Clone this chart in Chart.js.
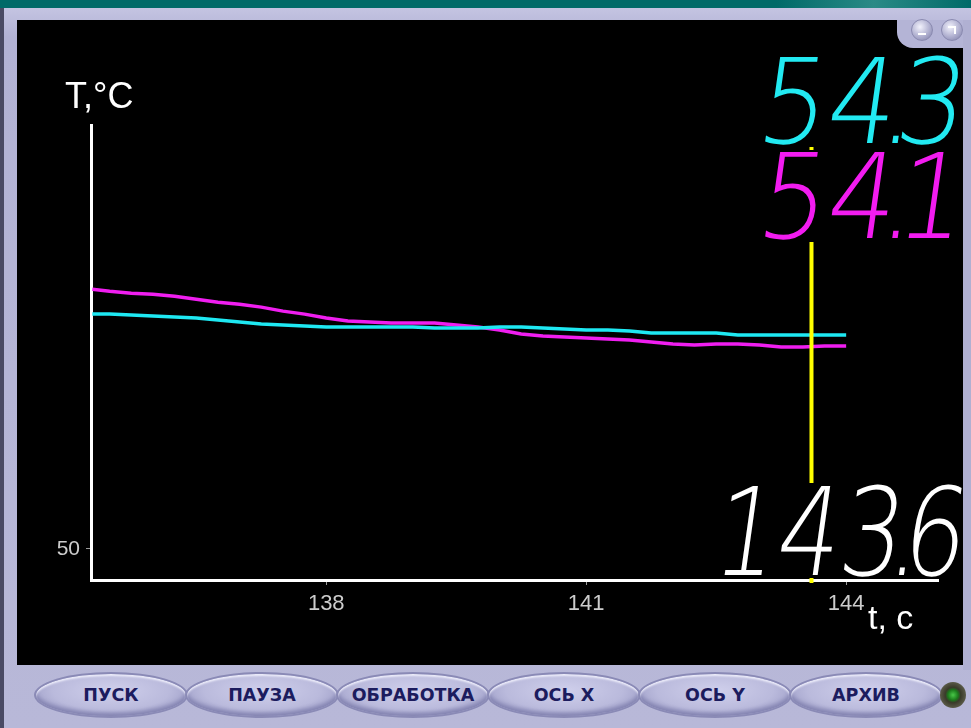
<!DOCTYPE html>
<html>
<head>
<meta charset="utf-8">
<script src="https://cdn.jsdelivr.net/npm/chart.js@4"></script>
<style>
  html, body { margin:0; padding:0; }
  body { width:971px; height:728px; position:relative; overflow:hidden; background:#b6b6d6; font-family:"Liberation Sans", Arial, sans-serif; }
  #topbar { position:absolute; left:0; top:0; width:971px; height:8px; background:linear-gradient(90deg,#006a68 0%,#006a68 80%,#2a8a86 90%,#006a68 100%); }
  #leftdark { position:absolute; left:0; top:8px; width:4px; height:720px; background:#4a4a64; }
  #frameinner { position:absolute; left:4px; top:8px; width:967px; height:720px; background:linear-gradient(180deg,#c4c4e2 0%,#b2b2d4 4%,#b8b8d8 100%); }
  #panel { position:absolute; left:17px; top:20px; width:946px; height:645px; background:#000; }
  #tab { position:absolute; left:897px; top:20px; width:66px; height:28px; background:#b4b4d6; border-bottom-left-radius:16px; }
  .rb { position:absolute; top:19px; width:20px; height:20px; border-radius:50%; background:radial-gradient(circle at 40% 35%,#f2f2fc 0%,#b0b0d0 55%,#7a7aa4 100%); border:1px solid #8a8ab0; }
  .rb .minus { position:absolute; left:6px; top:13px; width:8px; height:2px; background:#fff; }
  .rb .arr { position:absolute; left:6px; top:6px; width:6px; height:6px; border-top:2px solid #fff; border-right:2px solid #fff; }
  #rightedge { position:absolute; left:963px; top:20px; width:8px; height:650px; background:#b0b0d2; }
  canvas#c { position:absolute; left:0; top:0; }
  .btn { position:absolute; top:672px; width:154px; height:46px; border-radius:50%; box-sizing:border-box;
         background:radial-gradient(ellipse at 50% 40%,#d0d0ec 0%,#babadc 55%,#9a9ac4 85%,#7e7eac 100%);
         border:2px solid #8a8ab6; box-shadow:inset 0 2px 2px #ececfa, inset 0 -3px 4px #8282b0;
         display:flex; align-items:center; justify-content:center; font-family:"DejaVu Sans", sans-serif; font-weight:bold; font-size:17.5px; color:#1c1c5e; }
  #led { position:absolute; left:940px; top:682px; width:26px; height:26px; border-radius:50%; background:radial-gradient(circle,#48c848 0%,#1c7a1c 28%,#3a3a2a 42%,#5a5a48 70%,#2e2e24 100%); }
  .ro { position:absolute; background:#000; overflow:visible; z-index:5; }
  .ro .num { position:absolute; right:-4px; font-family:"DejaVu Sans", sans-serif; font-weight:200; transform-origin:100% 50%; white-space:nowrap; line-height:1; }
  .ro .dot { display:inline-block; width:0; position:relative; left:-16px; }
  .axt { position:absolute; color:#fff; font-family:"Liberation Sans", Arial, sans-serif; line-height:1; z-index:6; }
</style>
</head>
<body>
<div id="topbar"></div>
<div id="frameinner"></div>
<div id="leftdark"></div>
<div id="panel"></div>
<div id="rightedge"></div>
<div id="tab"></div>
<div class="rb" style="left:911px;"><div class="minus"></div></div>
<div class="rb" style="left:941px;"><div class="arr"></div></div>

<div class="btn" style="left:34px;">ПУСК</div>
<div class="btn" style="left:185px;">ПАУЗА</div>
<div class="btn" style="left:336px;">ОБРАБОТКА</div>
<div class="btn" style="left:487px;">ОСЬ X</div>
<div class="btn" style="left:638px;">ОСЬ Y</div>
<div class="btn" style="left:789px;">АРХИВ</div>
<div id="led"></div>

<canvas id="c" width="971" height="728"></canvas>

<div class="axt" style="left:65px; top:78px; font-size:36px;">T,°C</div>
<div class="axt" style="left:868px; top:600px; font-size:34px;">t, c</div>
<div class="ro" id="ro1" style="left:760px; top:50px; width:203px; height:96px;"><span class="num"></span></div>
<div class="ro" id="ro2" style="left:760px; top:150px; width:203px; height:92px;"><span class="num"></span></div>
<div class="ro" id="ro3" style="left:728px; top:483px; width:235px; height:95px;"><span class="num"></span></div>

<script>
// ---- data ----
const times = [135.3, 135.5, 135.75, 136.0, 136.25, 136.5, 136.75, 137.0, 137.25, 137.5, 137.75, 138.0,
  138.25, 138.5, 138.75, 139.0, 139.25, 139.5, 139.75, 140.0, 140.25, 140.5, 140.75, 141.0,
  141.25, 141.5, 141.75, 142.0, 142.25, 142.5, 142.75, 143.0, 143.25, 143.5, 143.75, 144.0];
const tempMagenta = [55.22, 55.18, 55.14, 55.12, 55.08, 55.02, 54.96, 54.92, 54.86, 54.78, 54.72, 54.64,
  54.58, 54.56, 54.54, 54.54, 54.54, 54.50, 54.46, 54.40, 54.32, 54.28, 54.26, 54.24,
  54.22, 54.20, 54.16, 54.12, 54.10, 54.12, 54.12, 54.10, 54.06, 54.06, 54.08, 54.08];
const tempCyan = [54.72, 54.72, 54.70, 54.68, 54.66, 54.64, 54.60, 54.56, 54.52, 54.50, 54.48, 54.46,
  54.46, 54.46, 54.46, 54.46, 54.44, 54.44, 54.44, 54.46, 54.46, 54.44, 54.42, 54.40,
  54.40, 54.38, 54.34, 54.34, 54.34, 54.34, 54.30, 54.30, 54.30, 54.30, 54.30, 54.30];
const xTickValues = [138, 141, 144];
const yTickValues = [50];
const cursorTime = [143.6];
const readouts = ["54.3", "54.1"];

// readouts (real text, with the decimal point squeezed like a 7-segment display)
function fillReadout(sel, text, color, size, top, scale) {
  const el = document.querySelector(sel + ' .num');
  el.innerHTML = '';
  for (const ch of text) {
    const s = document.createElement('span');
    s.textContent = ch;
    if (ch === '.') s.className = 'dot';
    el.appendChild(s);
  }
  el.style.color = color;
  el.style.fontSize = size + 'px';
  el.style.top = top + 'px';
  el.style.transform = 'skewX(-8deg) scaleX(' + scale + ')';
}
fillReadout('#ro1', readouts[0], '#22eaf2', 118, -7, 0.92);
fillReadout('#ro2', readouts[1], '#f21cf0', 118, -12, 0.92);
fillReadout('#ro3', cursorTime[0].toFixed(1), '#ffffff', 122, -11, 0.81);

const cursorPlugin = {
  id: 'cursorLine',
  afterDatasetsDraw(chart) {
    const ctx = chart.ctx;
    const x = chart.scales.x.getPixelForValue(cursorTime[0]);
    ctx.save();
    ctx.strokeStyle = '#ffff00';
    ctx.lineWidth = 4;
    ctx.beginPath();
    ctx.moveTo(x, 147);
    ctx.lineTo(x, chart.chartArea.bottom + 3);
    ctx.stroke();
    ctx.restore();
  }
};

new Chart(document.getElementById('c'), {
  type: 'line',
  data: {
    datasets: [
      { label: 'T1', data: times.map((t, i) => ({ x: t, y: tempCyan[i] })), borderColor: '#1ee8f2', borderWidth: 3.5, pointRadius: 0, tension: 0, fill: false },
      { label: 'T2', data: times.map((t, i) => ({ x: t, y: tempMagenta[i] })), borderColor: '#f01ef0', borderWidth: 3.5, pointRadius: 0, tension: 0, fill: false }
    ]
  },
  options: {
    responsive: false,
    animation: false,
    events: [],
    layout: { padding: { left: 0, top: 125, right: 33, bottom: 0 } },
    plugins: { legend: { display: false }, tooltip: { enabled: false } },
    scales: {
      x: {
        type: 'linear', min: 135.285, max: 145.06,
        afterFit(s) { s.height = 148; },
        afterBuildTicks(s) { s.ticks = xTickValues.map(v => ({ value: v })); },
        ticks: { color: '#cccccc', font: { family: 'Liberation Sans, Arial, sans-serif', size: 22 }, padding: 6, maxRotation: 0, autoSkip: false, callback: v => String(v) },
        grid: { display: true, drawOnChartArea: false, drawTicks: true, tickLength: 5, color: '#9a9a9a', lineWidth: 1 },
        border: { display: true, color: '#ffffff', width: 3 }
      },
      y: {
        type: 'linear', min: 49.377, max: 58.52,
        afterFit(s) { s.width = 91; },
        afterBuildTicks(s) { s.ticks = yTickValues.map(v => ({ value: v })); },
        ticks: { color: '#cccccc', font: { family: 'Liberation Sans, Arial, sans-serif', size: 21 }, padding: 6, autoSkip: false, callback: v => String(v) },
        grid: { display: true, drawOnChartArea: false, drawTicks: true, tickLength: 5, color: '#9a9a9a', lineWidth: 1 },
        border: { display: true, color: '#ffffff', width: 3 }
      }
    }
  },
  plugins: [cursorPlugin]
});
</script>
</body>
</html>
